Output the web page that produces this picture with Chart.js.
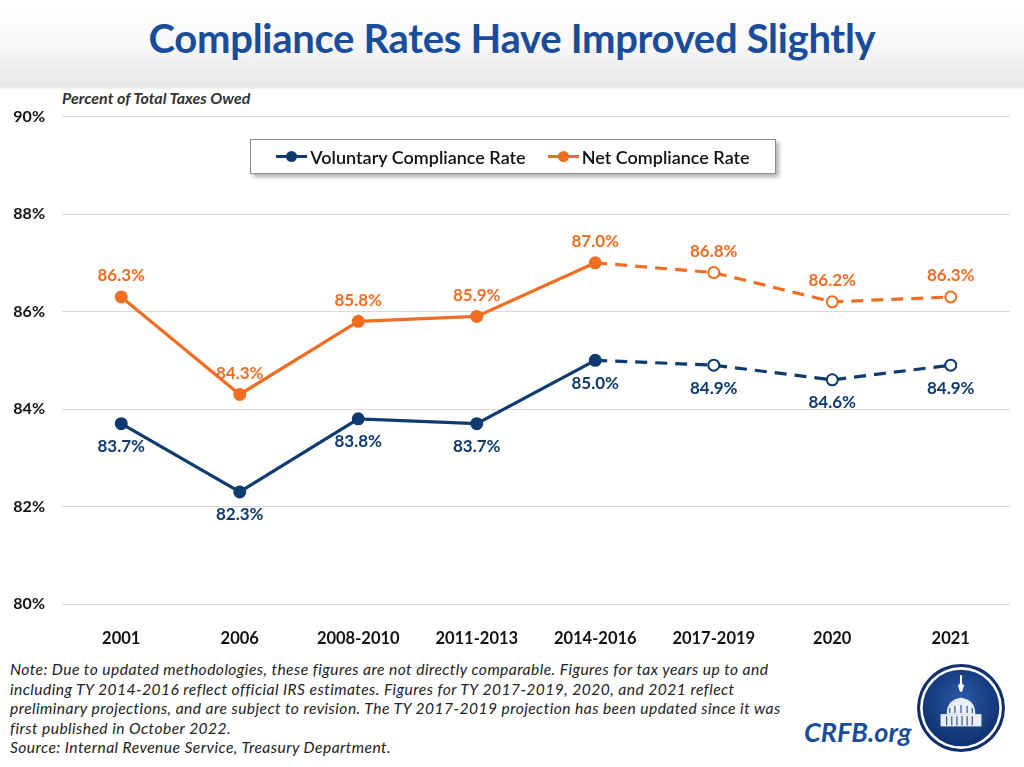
<!DOCTYPE html>
<html>
<head>
<meta charset="utf-8">
<script src="https://cdn.jsdelivr.net/npm/chart.js@4.4.0/dist/chart.umd.min.js"></script>
<style>
  html, body { margin: 0; padding: 0; background: #fff; }
  body { width: 1024px; height: 767px; position: relative; overflow: hidden; font-family: Lato, "Open Sans", sans-serif; }
  .band { position: absolute; left: 0; top: 0; width: 1024px; height: 86px;
          background: linear-gradient(#ffffff 0%, #f7f7f7 55%, #e6e6e6 100%);
          box-shadow: 0 2px 3px rgba(0,0,0,.12); }
  .title { position: absolute; left: 0; top: 14px; width: 1024px; text-align: center;
           font: bold 40px Lato, sans-serif; color: #1a4c9c; letter-spacing: -0.3px; }
  .sub { position: absolute; left: 62px; top: 88px; font: italic bold 16px Lato, sans-serif; color: #333; }
  #wrap { position: absolute; left: 0; top: 90px; width: 1024px; height: 560px; }
  .legend { position: absolute; left: 250px; top: 139px; width: 524px; height: 33px; background: #fff;
            border: 1px solid #8c8c8c; box-shadow: 3px 3px 4px rgba(0,0,0,.3);
            display: flex; align-items: center; justify-content: center; gap: 22px;
            font: 600 18px Lato, sans-serif; color: #111; }
  .legend span { display: flex; align-items: center; }
  .mk { position: relative; width: 31px; height: 3px; margin-right: 3px; }
  .mk::after { content: ''; position: absolute; left: 10px; top: -4px; width: 11px; height: 11px; border-radius: 50%; background: inherit; }
  .note { position: absolute; left: 10px; top: 660px; width: 900px; font: italic 15.6px Lato, sans-serif; letter-spacing: 0.45px; line-height: 19.6px; color: #222; white-space: nowrap; }
  .crfb { position: absolute; left: 804px; top: 715px; font: italic bold 27px Lato, sans-serif; color: #1a4c9c; }
  .logo { position: absolute; left: 916px; top: 663px; }
</style>
</head>
<body>
<div class="band"></div>
<div class="title">Compliance Rates Have Improved Slightly</div>
<div class="sub">Percent of Total Taxes Owed</div>
<div id="wrap"><canvas id="chart"></canvas></div>
<div class="legend">
  <span><i class="mk" style="background:#0d3a70"></i>Voluntary Compliance Rate</span>
  <span><i class="mk" style="background:#f26d21"></i>Net Compliance Rate</span>
</div>
<div class="note">Note: Due to updated methodologies, these figures are not directly comparable. Figures for tax years up to and<br>including TY 2014-2016 reflect official IRS estimates. Figures for TY 2017-2019, 2020, and 2021 reflect<br>preliminary projections, and are subject to revision. The TY 2017-2019 projection has been updated since it was<br>first published in October 2022.<br>Source: Internal Revenue Service, Treasury Department.</div>
<div class="crfb">CRFB.org</div>
<svg class="logo" width="90" height="90" viewBox="0 0 88 88">
  <defs>
    <radialGradient id="lg" cx="50%" cy="40%" r="60%">
      <stop offset="0" stop-color="#2c5aa8"/>
      <stop offset="1" stop-color="#0d2f6e"/>
    </radialGradient>
  </defs>
  <circle cx="44" cy="44" r="43" fill="#0d2f6e"/>
  <circle cx="44" cy="44" r="40" fill="#fff"/>
  <circle cx="44" cy="44" r="37.5" fill="url(#lg)"/>
  <path d="M43 12 l2 0 l0 8 l2 2 l-2 6 l-2 0 l-2 -6 l2 -2 z" fill="#fff"/>
  <path d="M30 50 q0 -14 14 -16 q14 2 14 16 z" fill="#fff" opacity=".9"/>
  <rect x="24" y="50" width="40" height="12" fill="#fff" opacity=".9"/>
  <g stroke="#1a3f85" stroke-width="1">
    <line x1="30" y1="52" x2="30" y2="61"/><line x1="35" y1="52" x2="35" y2="61"/><line x1="40" y1="52" x2="40" y2="61"/>
    <line x1="45" y1="52" x2="45" y2="61"/><line x1="50" y1="52" x2="50" y2="61"/><line x1="55" y1="52" x2="55" y2="61"/>
    <line x1="33" y1="44" x2="33" y2="49"/><line x1="38" y1="42" x2="38" y2="49"/><line x1="44" y1="41" x2="44" y2="49"/>
    <line x1="50" y1="42" x2="50" y2="49"/><line x1="55" y1="44" x2="55" y2="49"/>
  </g>
</svg>
<script>
// ── Datos ─────────────────────────────────────────────────────
const periods = ['2001', '2006', '2008-2010', '2011-2013', '2014-2016', '2017-2019', '2020', '2021'];
const voluntaryRate = [83.7, 82.3, 83.8, 83.7, 85.0, 84.9, 84.6, 84.9];
const netRate = [86.3, 84.3, 85.8, 85.9, 87.0, 86.8, 86.2, 86.3];
const yTicks = [80, 82, 84, 86, 88, 90];
const lastOfficial = 4; // a partir de aquí son proyecciones

const NAVY = '#0d3a70', ORANGE = '#f26d21';

const fills = (color) => periods.map((_, i) => i > lastOfficial ? '#fff' : color);

// ── Etiquetas de valor ────────────────────────────────────────
const valueLabels = {
  id: 'valueLabels',
  afterDatasetsDraw(chart) {
    const { ctx } = chart;
    ctx.save();
    ctx.font = 'bold 17px Lato, sans-serif';
    ctx.textAlign = 'center';
    ctx.textBaseline = 'middle';
    chart.data.datasets.forEach((ds, di) => {
      const meta = chart.getDatasetMeta(di);
      ctx.fillStyle = ds.borderColor;
      meta.data.forEach((pt, i) => {
        const dy = ds.labelPos === 'above' ? -21 : 23;
        ctx.fillText(ds.data[i].toFixed(1) + '%', pt.x, pt.y + dy);
      });
    });
    ctx.restore();
  }
};

const dashAfter = (ctx) => ctx.p0DataIndex >= lastOfficial ? [12, 8] : undefined;

new Chart(document.getElementById('chart').getContext('2d'), {
  type: 'line',
  data: {
    labels: periods,
    datasets: [
      {
        label: 'Voluntary Compliance Rate', data: voluntaryRate, labelPos: 'below',
        borderColor: NAVY, borderWidth: 3.2, pointRadius: 5.5, pointBorderWidth: 2,
        pointBorderColor: NAVY, pointBackgroundColor: fills(NAVY),
        segment: { borderDash: dashAfter }
      },
      {
        label: 'Net Compliance Rate', data: netRate, labelPos: 'above',
        borderColor: ORANGE, borderWidth: 3.2, pointRadius: 5.5, pointBorderWidth: 2,
        pointBorderColor: ORANGE, pointBackgroundColor: fills(ORANGE),
        segment: { borderDash: dashAfter }
      }
    ]
  },
  options: {
    responsive: true, maintainAspectRatio: false, animation: false,
    layout: { padding: { top: 25, right: 14, left: 0, bottom: 0 } },
    plugins: { legend: { display: false }, tooltip: { enabled: false } },
    scales: {
      x: {
        offset: true,
        grid: { display: false }, border: { display: false },
        ticks: { padding: 17, color: '#111', font: { size: 16.5, weight: 'bold', family: 'Lato' } },
        afterFit: s => { s.height = 46; }
      },
      y: {
        min: 80, max: 90,
        afterBuildTicks: s => { s.ticks = yTicks.map(v => ({ value: v })); },
        grid: { color: '#d9d9d9', lineWidth: 1, drawTicks: false }, border: { display: false },
        ticks: { padding: 17, color: '#111', font: { size: 16, weight: 'bold', family: 'Lato' }, callback: v => v + '%' },
        afterFit: s => { s.width = 62; }
      }
    }
  },
  plugins: [valueLabels]
});
</script>
</body>
</html>
